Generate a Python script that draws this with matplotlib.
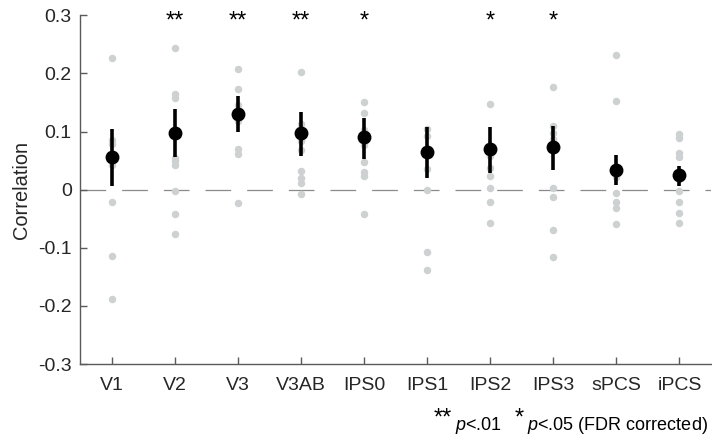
#Correlation per ROI: individual subjects (gray) with mean and CI (black)

import numpy as np
import matplotlib.pyplot as plt
from matplotlib.ticker import FuncFormatter

plt.rcParams['font.family'] = ['Liberation Sans', 'DejaVu Sans']
plt.rcParams['mathtext.fontset'] = 'custom'
plt.rcParams['mathtext.rm'] = 'Liberation Sans'
plt.rcParams['mathtext.it'] = 'Liberation Sans:italic'
plt.rcParams['lines.scale_dashes'] = False

###*******  DATA  *********###
rois = ['V1', 'V2', 'V3', 'V3AB', 'IPS0', 'IPS1', 'IPS2', 'IPS3', 'sPCS', 'iPCS']

means = [0.057, 0.098, 0.131, 0.097, 0.090, 0.065, 0.070, 0.073, 0.034, 0.025]
ci_low = [0.007, 0.057, 0.099, 0.058, 0.053, 0.020, 0.029, 0.033, 0.008, 0.006]
ci_high = [0.105, 0.139, 0.161, 0.134, 0.123, 0.107, 0.108, 0.109, 0.059, 0.041]

subjects = [
    [0.226, 0.086, 0.078, 0.043, -0.021, -0.114, -0.188],
    [0.243, 0.165, 0.157, 0.055, 0.049, 0.043, -0.002, -0.042, -0.077],
    [0.207, 0.174, 0.145, 0.118, 0.070, 0.061, -0.023],
    [0.203, 0.113, 0.084, 0.069, 0.032, 0.020, 0.012, -0.008],
    [0.151, 0.132, 0.103, 0.076, 0.048, 0.030, 0.023, -0.042],
    [0.104, 0.092, 0.060, 0.035, -0.001, -0.108, -0.138],
    [0.147, 0.058, 0.038, 0.023, 0.003, -0.021, -0.058],
    [0.177, 0.109, 0.098, 0.087, 0.002, -0.013, -0.070, -0.116],
    [0.231, 0.152, 0.021, -0.006, -0.022, -0.031, -0.059],
    [0.096, 0.089, 0.063, 0.056, 0.018, -0.002, -0.022, -0.040, -0.057],
]

stars = ['', '**', '**', '**', '*', '', '*', '*', '', '']

x = np.arange(1, len(rois) + 1)

fig = plt.figure(figsize=(7.12, 4.41), dpi=100)
ax = fig.add_axes([0.1124, 0.1746, 0.8862, 0.7907])

#zero line
ax.plot([0.5, 10.5], [0, 0], color='#8a8a8a', lw=0.9, linestyle=(0, (18.5, 11.5)), zorder=1)

#individual subjects
for i, vals in enumerate(subjects):
    ax.plot(np.full(len(vals), x[i]), vals, 'o', color='#cdd1d1', ms=5.4, mec='none', zorder=2)

#means and intervals
for i in range(len(rois)):
    ax.plot([x[i], x[i]], [ci_low[i], ci_high[i]], color='black', lw=2.6, solid_capstyle='butt', zorder=3)
ax.plot(x, means, 'o', color='black', ms=9, zorder=4)

#significance stars
for i, s in enumerate(stars):
    if s:
        ax.text(x[i], 0.29, s, ha='center', va='center', fontsize=17, color='black', clip_on=False)

ax.set_xlim(0.5, 10.5)
ax.set_ylim(-0.3, 0.3)
ax.set_xticks(x)
ax.set_xticklabels(rois)
ax.set_yticks(np.arange(-0.3, 0.31, 0.1))

def fmt(v, pos):
    if abs(v) < 1e-9:
        return '0'
    return '%.1f' % v

ax.yaxis.set_major_formatter(FuncFormatter(fmt))

for side in ['top', 'right']:
    ax.spines[side].set_visible(False)
for side in ['left', 'bottom']:
    ax.spines[side].set_color('#5a5a5a')
    ax.spines[side].set_linewidth(1.0)

ax.tick_params(axis='both', direction='in', length=5, width=1.0, color='#5a5a5a',
               labelsize=14, labelcolor='#262626')
ax.tick_params(axis='y', pad=6)
ax.tick_params(axis='x', pad=9)
ax.set_ylabel('Correlation', fontsize=14.4, color='#262626', labelpad=5)

#footnote, placed in figure pixels
W, H = 712.0, 441.0
base = 1 - 430 / H
fig.text(443 / W, 1 - 408 / H, '**', ha='center', va='top', fontsize=17, color='black')
fig.text(455 / W, base, r'$\mathit{p}$<.01', ha='left', va='baseline', fontsize=13, color='black')
fig.text(519 / W, 1 - 408 / H, '*', ha='center', va='top', fontsize=17, color='black')
fig.text(527 / W, base, r'$\mathit{p}$<.05 (FDR corrected)', ha='left', va='baseline', fontsize=13, color='black')

plt.savefig('out.png', dpi=100)
